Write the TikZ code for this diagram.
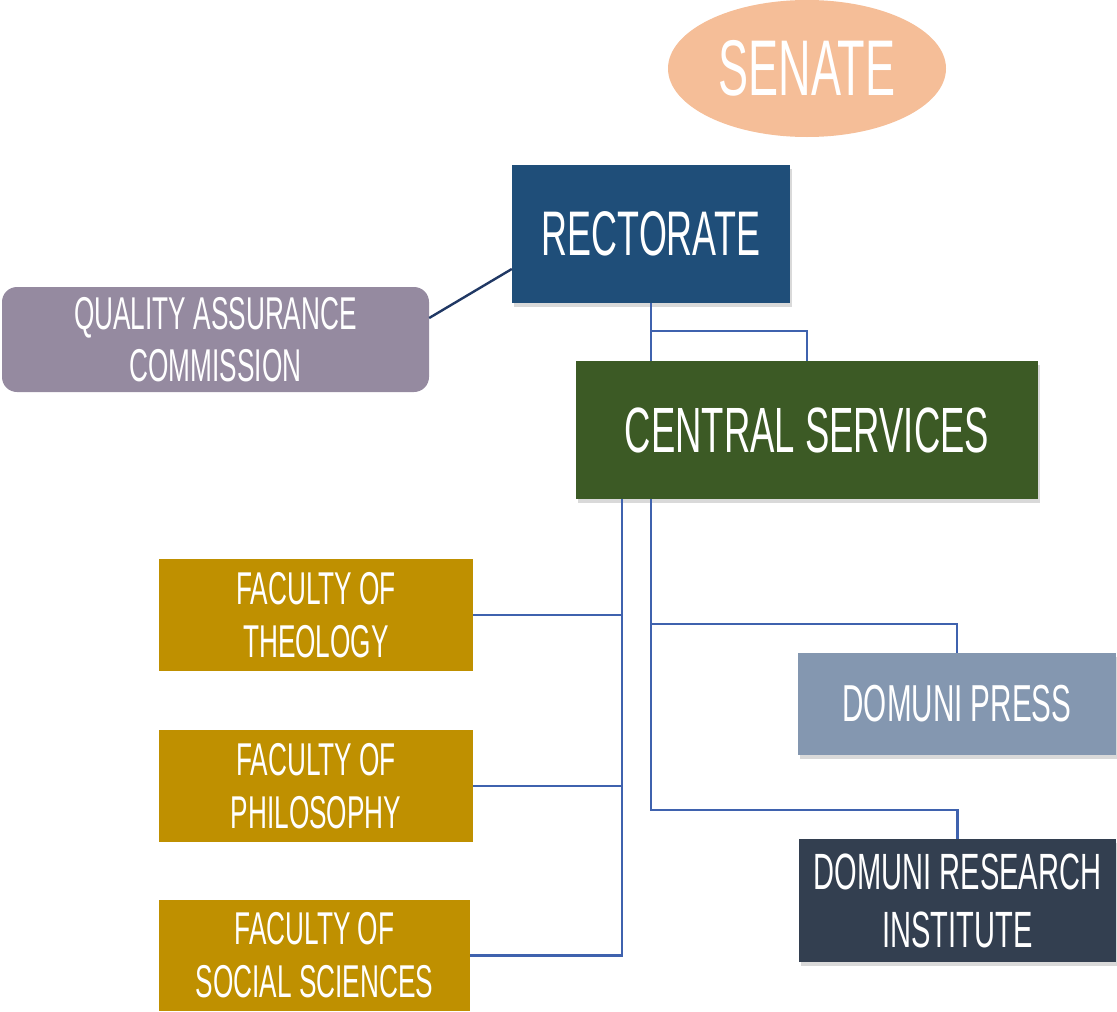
\documentclass[tikz,border=0pt]{standalone}
\usepackage{fontspec}
\setmainfont[FakeStretch=0.57]{Liberation Sans}
\usetikzlibrary{shadows,shapes.geometric}
\definecolor{senatec}{HTML}{F5BE98}
\definecolor{rectc}{HTML}{1F4E79}
\definecolor{centralc}{HTML}{3C5A25}
\definecolor{qac}{HTML}{958AA0}
\definecolor{facc}{HTML}{BF9000}
\definecolor{pressc}{HTML}{8497B0}
\definecolor{resc}{HTML}{333F50}
\definecolor{linec}{HTML}{3F62AE}
\definecolor{qalinec}{HTML}{203864}
\tikzset{
  box/.style={rectangle, inner sep=0pt, text=white, align=center},
  shad/.style={drop shadow={shadow xshift=2pt, shadow yshift=-4pt, opacity=0.3}},
  conn/.style={draw=linec, line width=2.4pt},
}
\begin{document}
\begin{tikzpicture}[x=1pt,y=-1pt]
\useasboundingbox (0,0) rectangle (1117,1012);
% nodes
\node[ellipse, fill=senatec, text=white, inner sep=0pt, minimum width=278pt, minimum height=137pt, font=\fontsize{79}{90}\selectfont] (sen) at (807,68.5) {SENATE};
\node[box, shad, fill=rectc, minimum width=278pt, minimum height=138pt, font=\fontsize{63}{72}\selectfont] (rect) at (651,234) {RECTORATE};
\node[box, fill=qac, rounded corners=15pt, minimum width=427pt, minimum height=105pt, font=\fontsize{46}{52}\selectfont] (qa) at (215.5,339.5) {QUALITY ASSURANCE\\COMMISSION};
\node[box, shad, fill=centralc, minimum width=462pt, minimum height=138pt, font=\fontsize{64}{72}\selectfont] (cs) at (807,430) {CENTRAL SERVICES};
\node[box, fill=facc, minimum width=314pt, minimum height=112pt, font=\fontsize{46}{53}\selectfont] (f1) at (316,615) {FACULTY OF\\THEOLOGY};
\node[box, fill=facc, minimum width=314pt, minimum height=112pt, font=\fontsize{46}{53}\selectfont] (f2) at (316,786) {FACULTY OF\\PHILOSOPHY};
\node[box, fill=facc, minimum width=311pt, minimum height=111pt, font=\fontsize{46}{53}\selectfont] (f3) at (314.5,955.5) {FACULTY OF\\SOCIAL SCIENCES};
\node[box, shad, fill=pressc, minimum width=318pt, minimum height=102pt, font=\fontsize{52}{60}\selectfont] (dp) at (957,704) {DOMUNI PRESS};
\node[box, shad, fill=resc, minimum width=317pt, minimum height=123pt, font=\fontsize{51}{58}\selectfont] (dr) at (957.5,900.5) {DOMUNI RESEARCH\\INSTITUTE};
% connectors
\draw[draw=qalinec, line width=2.4pt] ([yshift=21.5pt]qa.east) -- ([yshift=-35pt]rect.west);
\draw[conn] (rect.south) -- (rect.south |- cs.north);
\draw[conn] (rect.south) ++(0,28) -| (cs.north);
\draw[conn] (f1.east) -| ([xshift=-185pt]cs.south);
\draw[conn] (f2.east) -| ([xshift=-185pt]cs.south);
\draw[conn] (f3.east) -| ([xshift=-185pt]cs.south);
\draw[conn] ([xshift=-156pt]cs.south) |- ([yshift=29pt]dp.north) -- (dp.north);
\draw[conn] ([xshift=-156pt]cs.south) |- ([yshift=29pt]dr.north) -- (dr.north);
\end{tikzpicture}
\end{document}
